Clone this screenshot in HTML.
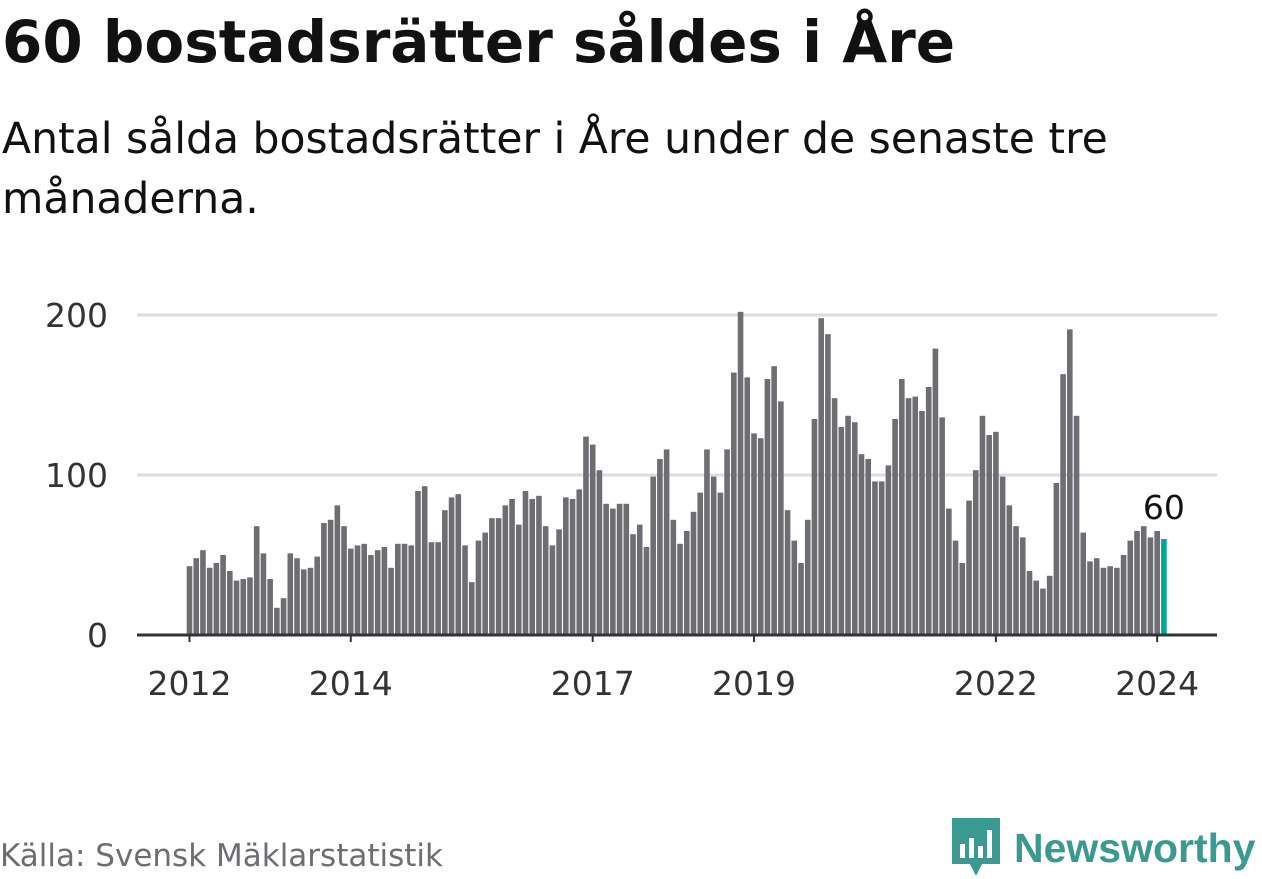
<!DOCTYPE html>
<html><head><meta charset="utf-8">
<style>
body{margin:0;width:1262px;height:879px;background:#fff;font-family:"DejaVu Sans","Liberation Sans",sans-serif;overflow:hidden;position:relative;color:#111}
#title{position:absolute;left:2px;top:8px;font-size:58px;font-weight:bold;margin:0;white-space:nowrap}
#sub{position:absolute;left:2px;top:110px;font-size:42.5px;line-height:60px;width:1250px;margin:0}
#src{position:absolute;left:0;top:838px;font-size:31px;color:#6e6d72}
#logo{position:absolute;left:952px;top:818px;display:flex;align-items:center}
#logo span{font-family:"Liberation Sans",sans-serif;font-size:41px;font-weight:bold;color:#3a9a92;margin-left:14px}
svg{position:absolute;left:0;top:0}
</style></head><body>
<h1 id="title">60 bostadsrätter såldes i Åre</h1>
<p id="sub">Antal sålda bostadsrätter i Åre under de senaste tre<br>månaderna.</p>
<svg id="chart" width="1262" height="879"></svg>
<div id="src">Källa: Svensk Mäklarstatistik</div>
<div id="logo">
<svg width="48" height="60" viewBox="0 0 48 60" style="position:static"><path d="M0 0H48V46H30L24 58L18 46H0Z" fill="#3a9a92"/><rect x="8" y="26" width="5" height="14" fill="#fff"/><rect x="17" y="20" width="5" height="20" fill="#fff"/><rect x="26" y="28" width="5" height="12" fill="#fff"/><rect x="35" y="12" width="5" height="28" fill="#fff"/></svg>
<span>Newsworthy</span></div>
<script>
const values=[43,48,53,42,45,50,40,34,35,36,68,51,
35,17,23,51,48,41,42,49,70,72,81,68,
54,56,57,50,53,55,42,57,57,56,90,93,
58,58,78,86,88,56,33,59,64,73,73,81,
85,69,90,85,87,68,56,66,86,85,91,124,
119,103,82,79,82,82,63,69,55,99,110,116,
72,57,65,77,89,116,99,89,116,164,202,161,
126,123,160,168,146,78,59,45,72,135,198,188,
148,130,137,133,113,110,96,96,106,135,160,148,
149,140,155,179,136,79,59,45,84,103,137,125,
127,99,81,68,61,40,34,29,37,95,163,191,
137,64,46,48,42,43,42,50,59,65,68,61,
65,60];
const startYear=2012;
const yTicks=[0,100,200];
const xTickYears=[2012,2014,2017,2019,2022,2024];
const NS="http://www.w3.org/2000/svg";
const svg=document.getElementById('chart');
const y=v=>635-v*1.6;
const x=i=>189.5+i*6.72;
function mk(t,a){const e=document.createElementNS(NS,t);for(const k in a)e.setAttribute(k,a[k]);svg.appendChild(e);return e;}
yTicks.forEach(t=>{
 if(t>0){const g=mk('line',{x1:137,x2:1217,y1:y(t),y2:y(t),stroke:'#dcdcdc','stroke-width':3});
 
 }
 const l=mk('text',{x:108,y:y(t)+12,'text-anchor':'end','font-size':33,fill:'#333'});
 l.textContent=t;
 
 
});
values.forEach((v,i)=>{
 const last=i===values.length-1;
 const r=mk('rect',{x:x(i)-2.8,y:y(v),width:5.6,height:v*1.6,fill:last?'#00a69c':'#6e6d72'});
 
 
});
const lv=values[values.length-1];
const lab=mk('text',{x:x(values.length-1),y:y(lv)-20,'text-anchor':'middle','font-size':33,fill:'#111'});
lab.textContent=lv;


const ax=mk('line',{x1:137,x2:1217,y1:635,y2:635,stroke:'#333','stroke-width':3});


xTickYears.forEach(yr=>{
 const xx=x((yr-startYear)*12);
 const tk=mk('line',{x1:xx,x2:xx,y1:635,y2:642,stroke:'#333','stroke-width':2});
 
 
 const t=mk('text',{x:xx,y:695,'text-anchor':'middle','font-size':33,fill:'#333'});
 t.textContent=yr;
 
 
});
</script>
</body></html>
